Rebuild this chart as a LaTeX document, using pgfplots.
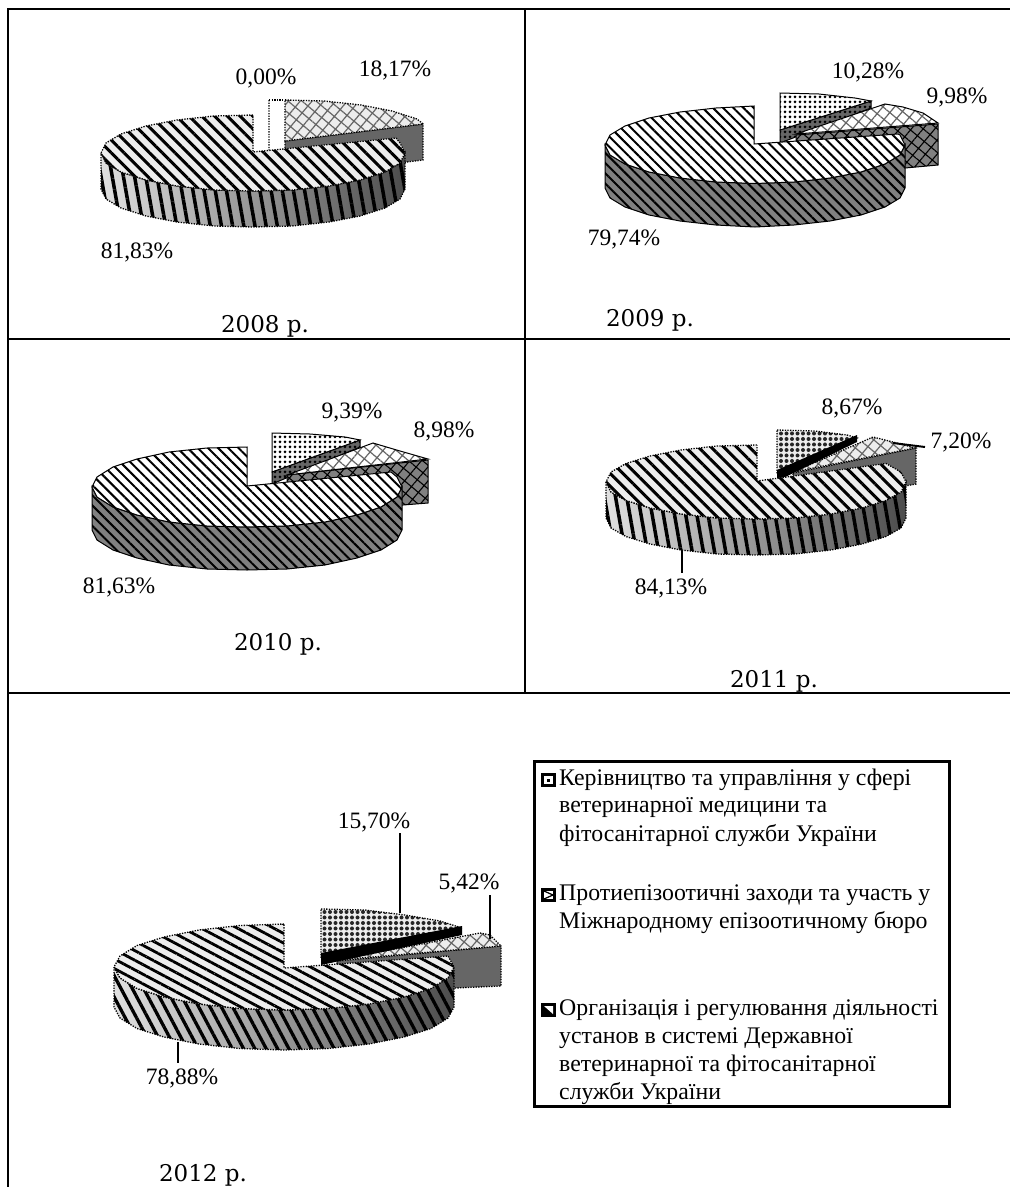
\documentclass[border=0pt]{standalone}
\usepackage{pgfplots}
\pgfplotsset{compat=1.18}
\usepackage{fontspec}
\setmainfont{Liberation Serif}
\newfontfamily\yearfont{DejaVu Serif}
\usetikzlibrary{patterns.meta}
% fill layer, pattern layer (no stroke), outline layer
\newcommand\lay[4]{\addplot[#1,draw=none] coordinates {#4} -- cycle; \addplot[#2,draw=none] coordinates {#4} -- cycle; \addplot[#3] coordinates {#4} -- cycle;}
\newcommand\pct[2]{\node[font=\fontsize{23.5}{26}\selectfont,inner sep=0pt] at (axis cs:#1) {#2};}
\newcommand\yr[2]{\node[font=\yearfont\fontsize{23}{26}\selectfont,inner sep=0pt,anchor=base] at (axis cs:#1) {#2};}
\newcommand\leg[2]{\node[font=\fontsize{23.8}{26}\selectfont,inner sep=0pt,anchor=west] at (axis cs:559,#1) {#2};}
\tikzset{
 dotline/.style={draw=black,line width=1.3pt,dash pattern=on 1.3pt off 1.3pt},
 solidline/.style={draw=black,line width=1pt},
 stripeA/.style={pattern={Lines[angle=-45,distance=9pt,line width=3pt]},pattern color=black},
 stripeB/.style={pattern={Lines[angle=-45,distance=7.2pt,line width=2pt]},pattern color=black},
 stripeC/.style={pattern={Lines[angle=-28,distance=8.5pt,line width=2.8pt]},pattern color=black},
 stripeW/.style={pattern={Lines[angle=-80,distance=11pt,line width=3.5pt]},pattern color=black},
 stripeX/.style={pattern={Lines[angle=-62,distance=10pt,line width=3.3pt]},pattern color=black},
 hatchG/.style={pattern={Hatch[angle=50,distance=9pt,line width=1.2pt]},pattern color=black!60},
 hatchB/.style={pattern={Hatch[angle=50,distance=9pt,line width=1.1pt]},pattern color=black},
 dotsA/.style={pattern={Dots[distance=5pt,radius=1.5pt]},pattern color=black},
 dotsB/.style={pattern={Dots[distance=5.5pt,radius=2pt]},pattern color=black!85},
}
\begin{document}
\begin{tikzpicture}
\useasboundingbox (0,0) rectangle (1010pt,1187pt);
\begin{axis}[at={(0,0)},anchor=south west,width=1010pt,height=1187pt,scale only axis,
  xmin=0,xmax=1010,ymin=0,ymax=1187,y dir=reverse,hide axis,clip=false]
% table frame
\addplot[black,line width=2pt] coordinates {(7.5,1187) (7.5,8.5) (1010,8.5)};
\addplot[black,line width=2pt] coordinates {(525,8.5) (525,693)};
\addplot[black,line width=2pt] coordinates {(7.5,339) (1010,339)};
\addplot[black,line width=2pt] coordinates {(7.5,693) (1010,693)};

% ---------- 2008
\addplot[fill=black!60,draw=none] coordinates {(285,141) (423,124) (423,160) (285,177)} -- cycle;
\addplot[dotline] coordinates {(285,141) (423,124) (423,160) (285,177)} -- cycle;
\lay{fill=black!7}{hatchG}{dotline}{(285,100) (324,101) (361,105) (392,111) (417,119) (423,124) (285,141)}
\addplot[dotline] coordinates {(269,100) (269,151) (285,150)};
\addplot[dotline] coordinates {(269,100) (285,100)};
\addplot[draw=none,left color=black!12,right color=black!70] coordinates {(101,153) (106,163) (121,172) (146,180) (177,186) (214,190) (253,191) (292,190) (329,186) (360,180) (385,172) (400,163) (405,153) (405,189) (400,199) (385,208) (360,216) (329,222) (292,226) (253,227) (214,226) (177,222) (146,216) (121,208) (106,199) (101,189)} -- cycle;
\addplot[stripeW,draw=none] coordinates {(101,153) (106,163) (121,172) (146,180) (177,186) (214,190) (253,191) (292,190) (329,186) (360,180) (385,172) (400,163) (405,153) (405,189) (400,199) (385,208) (360,216) (329,222) (292,226) (253,227) (214,226) (177,222) (146,216) (121,208) (106,199) (101,189)} -- cycle;
\addplot[dotline] coordinates {(101,153) (106,163) (121,172) (146,180) (177,186) (214,190) (253,191) (292,190) (329,186) (360,180) (385,172) (400,163) (405,153) (405,189) (400,199) (385,208) (360,216) (329,222) (292,226) (253,227) (214,226) (177,222) (146,216) (121,208) (106,199) (101,189)} -- cycle;
\lay{fill=black!7}{stripeA}{dotline}{(253,115) (214,116) (177,120) (146,126) (121,134) (106,143) (101,153) (106,163) (121,172) (146,180) (177,186) (214,190) (253,191) (292,190) (329,186) (360,180) (385,172) (400,163) (405,153) (400,143) (396,138) (253,152)}
\pct{395,70}{18,17\%}
\pct{266,78}{0,00\%}
\pct{137,252}{81,83\%}
\yr{265,332}{2008 р.}

% ---------- 2009
\lay{fill=black!60}{dotsA}{solidline}{(780,130) (871,101) (871,108) (780,143)}
\lay{fill=white}{dotsA}{solidline}{(780,93) (819,94) (855,98) (871,101) (780,130)}
\lay{fill=black!50}{hatchB}{solidline}{(796,135) (938,124) (938,165) (905,168) (796,178)}
\lay{fill=white}{hatchG}{solidline}{(796,134) (885,104) (903,107) (923,113) (938,123)}
\lay{fill=black!50}{stripeB}{solidline}{(605,145) (610,155) (625,164) (649,172) (680,178) (716,182) (755,183.5) (794,182) (830,178) (861,172) (885,164) (900,155) (905,145) (905,188) (900,198) (885,207) (861,215) (830,221) (794,225) (755,227) (716,225) (680,221) (649,215) (625,207) (610,198) (605,188)}
\lay{fill=white}{stripeB}{solidline}{(754,106) (716,108) (680,112) (649,118) (625,126) (610,135) (605,145) (610,155) (625,164) (649,172) (680,178) (716,182) (755,183.5) (794,182) (830,178) (861,172) (885,164) (900,155) (905,145) (900,135) (898,134) (754,144)}
\pct{868,72}{10,28\%}
\pct{957,97}{9,98\%}
\pct{624,239}{79,74\%}
\yr{650,326}{2009 р.}

% ---------- 2010
\lay{fill=black!60}{dotsA}{solidline}{(272,472) (360,440) (360,447) (272,484)}
\lay{fill=white}{dotsA}{solidline}{(272,433) (310,434) (345,437) (360,440) (272,472)}
\lay{fill=black!50}{hatchB}{solidline}{(287,475) (428,460) (428,503) (403,505) (287,515)}
\lay{fill=white}{hatchG}{solidline}{(287,475) (373,443) (400,451) (428,459)}
\lay{fill=black!50}{stripeB}{solidline}{(92,487) (97,497) (113,507) (137,515) (169,522) (207,526) (247,527) (287,526) (325,522) (357,515) (381,507) (397,497) (402,487) (402,530) (397,540) (381,550) (357,558) (325,565) (287,569) (247,570) (207,569) (169,565) (137,558) (113,550) (97,540) (92,530)}
\lay{fill=white}{stripeB}{solidline}{(247,447) (207,448) (169,452) (137,459) (113,467) (97,477) (92,487) (97,497) (113,507) (137,515) (169,522) (207,526) (247,527) (287,526) (325,522) (357,515) (381,507) (397,497) (402,487) (397,477) (391,472) (247,486)}
\pct{352,412}{9,39\%}
\pct{444,431}{8,98\%}
\pct{119,587}{81,63\%}
\yr{278,650}{2010 р.}

% ---------- 2011
\addplot[fill=black!60,draw=none] coordinates {(793,473) (916,448) (916,484) (905,486) (793,510)} -- cycle;
\addplot[dotline] coordinates {(793,473) (916,448) (916,484) (905,486) (793,510)} -- cycle;
\lay{fill=black!7}{hatchG}{dotline}{(793,472) (873,437) (893,442) (915,448)}
\lay{fill=black!7}{dotsB}{dotline}{(777,430) (815,431) (847,435) (857,438) (777,474)}
\addplot[fill=black,draw=none] coordinates {(777,470) (857,435) (857,442) (777,481)} -- cycle;
\addplot[draw=none,left color=black!12,right color=black!70] coordinates {(606,482) (611,492) (626,500.5) (650,508) (681,514) (717,518) (756,519) (795,518) (831,514) (862,508) (886,500.5) (901,492) (906,482) (906,518) (901,528) (886,536.5) (862,544) (831,550) (795,554) (756,555) (717,554) (681,550) (650,544) (626,536.5) (611,528) (606,518)} -- cycle;
\addplot[stripeW,draw=none] coordinates {(606,482) (611,492) (626,500.5) (650,508) (681,514) (717,518) (756,519) (795,518) (831,514) (862,508) (886,500.5) (901,492) (906,482) (906,518) (901,528) (886,536.5) (862,544) (831,550) (795,554) (756,555) (717,554) (681,550) (650,544) (626,536.5) (611,528) (606,518)} -- cycle;
\addplot[dotline] coordinates {(606,482) (611,492) (626,500.5) (650,508) (681,514) (717,518) (756,519) (795,518) (831,514) (862,508) (886,500.5) (901,492) (906,482) (906,518) (901,528) (886,536.5) (862,544) (831,550) (795,554) (756,555) (717,554) (681,550) (650,544) (626,536.5) (611,528) (606,518)} -- cycle;
\lay{fill=black!7}{stripeA}{dotline}{(757,445) (717,446) (681,450) (650,456) (626,463.5) (611,472) (606,482) (611,492) (626,500.5) (650,508) (681,514) (717,518) (756,519) (795,518) (831,514) (862,508) (886,500.5) (901,492) (906,482) (901,472) (886,463.5) (757,481)}
\addplot[black,line width=2pt] coordinates {(893,443) (925,447)};
\addplot[black,line width=2.5pt] coordinates {(682,550) (682,573)};
\pct{852,408}{8,67\%}
\pct{961,442}{7,20\%}
\pct{671,588}{84,13\%}
\yr{774,687}{2011 р.}

% ---------- 2012
\addplot[fill=black!60,draw=none] coordinates {(337,961) (501,946) (501,986) (455,988) (337,1000)} -- cycle;
\addplot[dotline] coordinates {(337,961) (501,946) (501,986) (455,988) (337,1000)} -- cycle;
\lay{fill=black!7}{hatchG}{dotline}{(337,960) (480,933) (490,935) (501,946)}
\lay{fill=black!7}{dotsB}{dotline}{(321,909) (365,910) (405,915) (440,921) (462,928) (321,957)}
\addplot[fill=black,draw=none] coordinates {(321,953) (462,926) (462,935) (321,965)} -- cycle;
\addplot[draw=none,left color=black!12,right color=black!70] coordinates {(114,967) (120,978) (137,988.5) (164,997) (199,1004) (240,1008.5) (284,1010) (328,1008.5) (369,1004) (404,997) (431,988.5) (448,978) (454,967) (454,1007) (448,1018) (431,1028.5) (404,1037) (369,1044) (328,1048.5) (284,1050) (240,1048.5) (199,1044) (164,1037) (137,1028.5) (120,1018) (114,1007)} -- cycle;
\addplot[stripeX,draw=none] coordinates {(114,967) (120,978) (137,988.5) (164,997) (199,1004) (240,1008.5) (284,1010) (328,1008.5) (369,1004) (404,997) (431,988.5) (448,978) (454,967) (454,1007) (448,1018) (431,1028.5) (404,1037) (369,1044) (328,1048.5) (284,1050) (240,1048.5) (199,1044) (164,1037) (137,1028.5) (120,1018) (114,1007)} -- cycle;
\addplot[dotline] coordinates {(114,967) (120,978) (137,988.5) (164,997) (199,1004) (240,1008.5) (284,1010) (328,1008.5) (369,1004) (404,997) (431,988.5) (448,978) (454,967) (454,1007) (448,1018) (431,1028.5) (404,1037) (369,1044) (328,1048.5) (284,1050) (240,1048.5) (199,1044) (164,1037) (137,1028.5) (120,1018) (114,1007)} -- cycle;
\lay{fill=black!7}{stripeC}{dotline}{(284,924) (240,925.5) (199,930) (164,937) (137,945.5) (120,956) (114,967) (120,978) (137,988.5) (164,997) (199,1004) (240,1008.5) (284,1010) (328,1008.5) (369,1004) (404,997) (431,988.5) (448,978) (454,967) (448,956) (284,968)}
\addplot[black,line width=2.5pt] coordinates {(400,833) (400,913)};
\addplot[black,line width=2.5pt] coordinates {(490,895) (490,939)};
\addplot[black,line width=2.5pt] coordinates {(178,1042) (178,1063)};
\pct{374,822}{15,70\%}
\pct{469,883}{5,42\%}
\pct{182,1078}{78,88\%}
\yr{203,1181}{2012 р.}

% ---------- legend
\addplot[fill=white,draw=black,line width=3pt] coordinates {(534,761) (949,761) (949,1106) (534,1106)} -- cycle;
\addplot[fill=black,draw=none] coordinates {(541,773) (556,773) (556,787) (541,787)} -- cycle;
\addplot[fill=white,draw=none] coordinates {(544,776) (553,776) (553,784) (544,784)} -- cycle;
\addplot[fill=black,draw=none] coordinates {(547,779) (550,779) (550,782) (547,782)} -- cycle;
\addplot[fill=black,draw=none] coordinates {(541,888) (556,888) (556,902) (541,902)} -- cycle;
\addplot[fill=white,draw=none] coordinates {(544,891) (553,891) (553,899) (544,899)} -- cycle;
\addplot[black,line width=1.2pt] coordinates {(544,891) (553,895) (544,899)};
\addplot[fill=black,draw=none] coordinates {(541,1003) (556,1003) (556,1017) (541,1017)} -- cycle;
\addplot[fill=white,draw=none] coordinates {(544,1006) (553,1014) (553,1006)} -- cycle;
\leg{780}{Керівництво та управління у сфері}
\leg{808}{ветеринарної медицини та}
\leg{836}{фітосанітарної служби України}
\leg{895}{Протиепізоотичні заходи та участь у}
\leg{923}{Міжнародному епізоотичному бюро}
\leg{1010}{Організація і регулювання діяльності}
\leg{1038}{установ в системі Державної}
\leg{1066}{ветеринарної та фітосанітарної}
\leg{1094}{служби України}
\end{axis}
\end{tikzpicture}
\end{document}
